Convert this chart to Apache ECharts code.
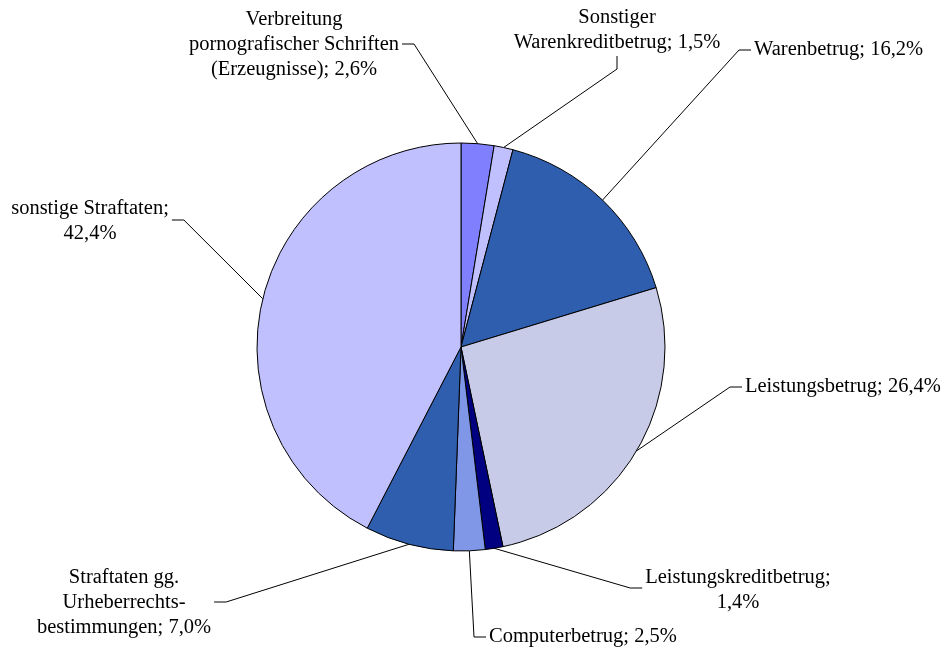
<!DOCTYPE html>
<html>
<head>
<meta charset="utf-8">
<script src="https://cdn.jsdelivr.net/npm/echarts@6/dist/echarts.min.js"></script>
<style>
  html, body { margin: 0; padding: 0; background: #fff; }
  #chart { width: 948px; height: 654px; }
</style>
</head>
<body>
<div id="chart"></div>
<script>
// Kategorien (Uhrzeigersinn ab 12 Uhr) und Anteile in %
var categories = [
  'Verbreitung pornografischer Schriften (Erzeugnisse)',
  'Sonstiger Warenkreditbetrug',
  'Warenbetrug',
  'Leistungsbetrug',
  'Leistungskreditbetrug',
  'Computerbetrug',
  'Straftaten gg. Urheberrechtsbestimmungen',
  'sonstige Straftaten'
]
var shares = [2.6, 1.5, 16.2, 26.4, 1.4, 2.5, 7.0, 42.4]
// Beschriftungen mit Zeilenumbruch wie im Original
var labelTexts = [
  'Verbreitung\npornografischer Schriften\n(Erzeugnisse)',
  'Sonstiger\nWarenkreditbetrug',
  'Warenbetrug',
  'Leistungsbetrug',
  'Leistungskreditbetrug;\n',
  'Computerbetrug',
  'Straftaten gg.\nUrheberrechts-\nbestimmungen',
  'sonstige Straftaten;\n'
]
var colors = ['#8080ff', '#c0c0ff', '#2e5ead', '#c7cbe8', '#000080', '#7f97e6', '#2e5ead', '#c0c0ff']

// Lage der Beschriftungen (x, y = Mitte), Seite an der die Linie ansetzt
var labelPos = [
  { x: 294, y: 45, align: 'center', side: 'right', dy: -1 },
  { x: 617, y: 30, align: 'center', side: 'bottom' },
  { x: 754, y: 50, align: 'left', side: 'left' },
  { x: 745, y: 387, align: 'left', side: 'left' },
  { x: 738, y: 590, align: 'center', side: 'left', dy: -2 },
  { x: 489, y: 637, align: 'left', side: 'left' },
  { x: 124, y: 603, align: 'center', side: 'right', dy: -1 },
  { x: 90, y: 221, align: 'center', side: 'right', dy: -1 }
]

function fmt (v) {
  return v.toFixed(1).replace('.', ',') + '%'
}

var data = categories.map(function (name, i) {
  return { name: name, value: shares[i], itemStyle: { color: colors[i] } }
})

var mychart = echarts.init(document.getElementById('chart'))
var option = {
  animation: false,
  series: [
    {
      type: 'pie',
      center: [461, 347],
      radius: 204,
      startAngle: 90,
      clockwise: true,
      data: data,
      itemStyle: {
        borderColor: '#000',
        borderWidth: 1
      },
      label: {
        show: true,
        position: 'outside',
        fontFamily: 'Liberation Serif',
        fontSize: 20.5,
        lineHeight: 25,
        color: '#000',
        formatter: function (p) {
          var t = labelTexts[p.dataIndex]
          if (t.charAt(t.length - 1) === '\n') return t + fmt(p.value)
          return t + '; ' + fmt(p.value)
        }
      },
      labelLine: {
        show: true,
        lineStyle: { color: '#000', width: 1 }
      },
      labelLayout: function (p) {
        var L = labelPos[p.dataIndex]
        var w = p.labelRect.width
        var h = p.labelRect.height
        var left = L.align === 'center' ? L.x - w / 2 : L.x
        var right = left + w
        var ly = L.y + (L.dy || 0)
        var a = p.labelLinePoints ? p.labelLinePoints[0] : [L.x, L.y]
        var pts
        if (L.side === 'right') {
          pts = [a, [right + 15, ly], [right + 3, ly]]
        } else if (L.side === 'left') {
          pts = [a, [left - 15, ly], [left - 3, ly]]
        } else {
          var bottom = L.y + h / 2
          pts = [a, [L.x, bottom + 14], [L.x, bottom + 1]]
        }
        return {
          x: L.x,
          y: L.y,
          align: L.align,
          verticalAlign: 'middle',
          labelLinePoints: pts
        }
      }
    }
  ]
}
mychart.setOption(option)
</script>
</body>
</html>
